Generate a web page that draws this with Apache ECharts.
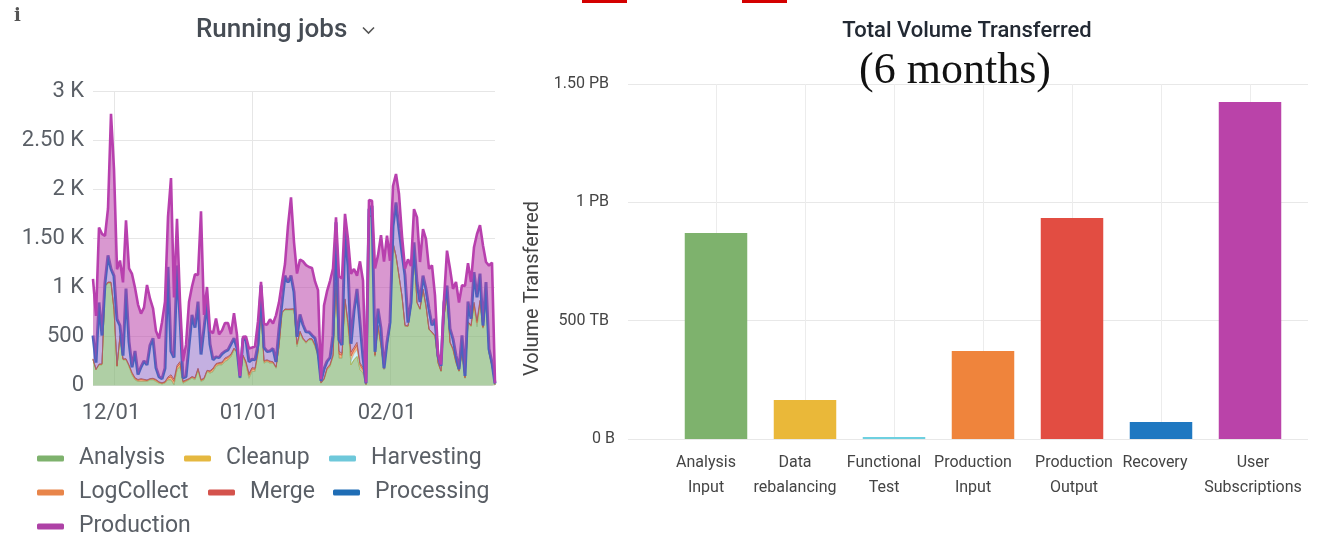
<!DOCTYPE html>
<html><head><meta charset="utf-8">
<style>html,body{margin:0;padding:0;background:#fff}#c{width:1339px;height:535px}</style>
<script src="https://cdn.jsdelivr.net/npm/echarts@6/dist/echarts.min.js"></script>
</head><body><div id="c"></div>
<script>
const jobTicks = {7:'12/01',53:'01/01',99:'02/01'};
const jobYLabels = {0:'0',500:'500',1000:'1 K',1500:'1.50 K',2000:'2 K',2500:'2.50 K',3000:'3 K'};
const analysis = [262,160,211,211,1010,1044,1044,772,194,500,262,262,194,109,58,41,41,41,41,58,58,41,24,17,24,58,58,7,160,194,24,41,58,75,58,160,41,58,143,126,143,194,211,211,245,262,296,364,330,75,296,211,75,143,143,330,772,228,245,228,228,177,398,738,772,772,772,772,398,534,466,432,466,466,398,296,24,58,160,194,296,1044,279,279,874,602,211,262,296,160,126,7,1724,1724,296,602,398,160,398,602,1452,1316,1112,908,602,602,806,1384,840,772,976,806,568,534,500,228,143,704,908,432,364,228,143,330,75,636,602,806,602,840,585,874,330,194,7];
const cleanup = [2,0,0,1,0,0,2,0,0,0,1,0,0,0,0,0,1,0,0,0,0,0,0,0,0,0,0,0,1,0,0,0,0,0,0,0,0,1,0,0,0,0,0,0,0,0,1,0,0,0,0,0,0,0,0,0,1,0,0,0,0,0,0,0,0,0,0,0,0,1,0,0,0,0,0,0,0,0,0,0,0,1,0,0,0,0,0,0,0,0,0,0,0,1,0,0,0,0,0,0,0,0,0,0,1,0,0,0,0,0,0,0,0,0,0,0,0,1,0,0,0,0,0,0,0,0,0,0,0,0,1,0,0,0,0];
const harvesting = [0,0,1,0,0,0,0,0,0,1,0,0,0,0,0,0,0,0,0,0,0,1,0,0,0,0,0,0,0,0,0,0,0,1,0,0,0,0,0,0,0,0,0,0,0,0,0,0,1,0,0,0,0,0,0,0,0,0,0,0,0,0,0,1,0,0,0,0,0,0,0,0,0,0,0,0,0,1,0,0,0,0,0,0,0,30,40,60,70,20,0,0,0,0,0,0,1,0,0,0,0,0,0,0,0,0,0,1,0,0,0,0,0,0,0,0,0,0,0,0,1,0,0,0,0,0,0,0,0,0,0,0,1,0,0];
const logCollect = [5,3,4,6,4,8,6,5,4,6,5,8,10,16,14,12,18,14,10,8,10,12,8,6,10,18,30,34,26,30,12,10,8,10,14,10,12,10,8,16,22,20,14,18,24,22,16,12,10,4,10,22,30,26,22,12,8,18,12,14,10,8,6,5,6,5,6,8,20,14,12,10,8,8,12,10,4,6,12,14,10,6,40,30,6,8,50,40,45,30,36,4,3,4,10,8,8,10,6,5,4,6,6,4,8,4,4,5,6,8,6,5,6,8,6,6,4,5,6,8,6,8,5,8,4,10,8,30,40,20,6,8,6,4,2];
const merge = [3,2,2,3,2,4,3,2,2,3,2,4,6,10,8,8,10,8,6,4,6,8,6,4,6,12,22,24,18,20,8,6,4,6,8,6,8,6,4,8,12,10,8,10,12,12,8,6,4,2,4,12,18,14,12,6,4,8,6,8,4,4,2,2,3,2,3,4,10,6,6,4,4,4,6,4,2,3,6,8,4,2,30,20,4,4,40,28,30,20,24,2,2,2,4,4,4,6,4,3,2,3,3,2,4,2,2,2,3,4,3,2,3,4,3,3,2,2,3,4,3,4,2,4,2,6,4,14,20,10,3,4,3,2,1];
const processing = [238,68,629,289,34,272,136,340,476,102,34,714,238,51,272,51,119,187,153,340,408,119,51,41,136,1122,238,221,1020,442,34,34,340,629,510,680,255,510,697,272,85,68,51,85,68,68,102,102,34,0,170,221,119,85,85,68,238,136,85,102,136,51,170,102,340,272,340,170,68,170,136,102,68,34,68,34,17,102,68,68,204,612,119,85,714,578,85,374,544,408,102,10,68,102,34,170,170,0,34,34,170,544,476,442,510,34,34,68,204,68,136,170,204,68,170,68,51,136,102,136,102,68,17,170,17,204,68,306,238,272,17,170,34,34,10];
const production = [578,476,765,1037,476,476,1581,1088,510,663,748,697,748,952,646,714,544,544,816,476,306,374,391,578,680,510,1768,612,476,170,170,323,442,289,544,272,1462,136,153,136,272,391,238,238,289,272,102,255,136,17,17,34,136,119,136,238,34,238,272,323,255,476,272,204,119,578,799,510,646,561,646,680,663,687,578,629,17,646,714,782,680,51,646,680,153,272,714,425,136,629,782,7,95,51,850,544,952,1088,1088,629,408,289,357,170,68,646,374,340,663,408,476,510,408,612,238,20,15,30,357,612,510,748,680,510,918,391,374,255,646,493,816,204,850,1020,7];

const volumeCategories = ['Analysis\nInput','Data\nrebalancing','Functional\nTest','Production\nInput','Production\nOutput','Recovery','User\nSubscriptions'];
const volumeValues = [0.87,0.165,0.008,0.372,0.934,0.072,1.424];
const volumeYLabels = {0:'0 B',0.5:'500 TB',1:'1 PB',1.5:'1.50 PB'};

const seriesNames = ['Analysis','Cleanup','Harvesting','LogCollect','Merge','Processing','Production'];
const seriesValues = [analysis,cleanup,harvesting,logCollect,merge,processing,production];
const colors = ['#7EB26D','#E5B840','#6EC8DA','#E8854A','#D4534C','#1F6DB5','#AE42A6'];
const lineColors = ['#7EB26D','#EAB839','#6ED0E0','#C9764A','#B5604E','#4A62BE','#B840AE'];
const fillColors = ['#7EB26D','#EAB839','#6ED0E0','#EF843C','#E24D42','#8A62C4','#BA43A9'];
const barColors = ['#7EB26D','#EAB839','#6ED0E0','#EF843C','#E24D42','#1F78C1','#BA43A9'];
const barLabelShift = [20,20,20,20,0,12,0];
const barLabelShiftRight = [0,0,0,0,4,0,6];
const categories = analysis.map((_,i)=>jobTicks[i]||String(i));
const legendPos = [[37,447],[184,447],[329,447],[37,481],[208,481],[333,481],[37,515]];
const fills = [0.62,0.3,0.3,0.6,0.6,0.5,0.55];
const widths = [1,0.5,0.5,1,1,3,2.6];

const isTick = i=>jobTicks[i]!==undefined;
const font='Roboto';
const chart = echarts.init(document.getElementById('c'),null,{renderer:'canvas'});
chart.setOption({
  animation:false,
  backgroundColor:'#fff',
  title:[
    {text:'Running jobs',left:191,top:12,textStyle:{fontFamily:font,fontSize:26,fontWeight:500,color:'#464c54'}},
    {text:'Total Volume Transferred',left:962,top:15,textAlign:'center',textStyle:{fontFamily:font,fontSize:22,fontWeight:500,color:'#222933'}},
    {text:'(6 months)',left:950,top:44,textAlign:'center',textStyle:{fontFamily:'Liberation Serif',fontSize:44,fontWeight:'normal',color:'#111'}},
    {text:'i',left:9,top:2,textStyle:{fontFamily:'DejaVu Serif',fontSize:18,fontWeight:'bold',color:'#555'}}
  ],
  legend:seriesNames.map((n,i)=>({
    data:[n],left:legendPos[i][0],top:legendPos[i][1],icon:'roundRect',itemWidth:27,itemHeight:6,padding:0,
    selectedMode:false,orient:'horizontal',
    textStyle:{fontFamily:font,fontSize:23,color:'#5a5f66',padding:[0,0,0,10]}
  })),
  grid:[
    {left:93,top:91.5,width:402,height:294},
    {left:671.5,top:84,width:623,height:355},
    {left:628,top:84,width:680,height:355}
  ],
  xAxis:[
    {type:'category',gridIndex:0,data:categories,boundaryGap:false,
     axisLine:{show:false},axisTick:{show:false},
     axisLabel:{interval:i=>isTick(i),formatter:v=>v,fontFamily:font,fontSize:22,color:'#5a5f66',margin:17,padding:[0,6,0,0],hideOverlap:false},
     splitLine:{show:true,interval:i=>isTick(i),lineStyle:{color:'#e6e6e6',width:1}}},
    {type:'category',gridIndex:1,data:volumeCategories,
     axisLine:{show:false},axisTick:{show:false},
     axisLabel:{interval:0,lineHeight:25,margin:11,color:'#444',fontFamily:font,fontSize:16,
       formatter:(v,i)=>v.split('\n').map(s=>`{s${i}|${s}}`).join('\n'),
       rich:Object.fromEntries(volumeCategories.map((_,i)=>['s'+i,{fontFamily:font,fontSize:16,color:'#444',lineHeight:25,padding:[0,barLabelShiftRight[i]?0:barLabelShift[i],0,barLabelShiftRight[i]]}]))},
     splitLine:{show:true,alignWithLabel:true,interval:0,lineStyle:{color:'#ececec',width:1}}},
    {type:'value',gridIndex:2,min:0,max:1,show:false}
  ],
  yAxis:[
    {type:'value',gridIndex:0,min:0,max:3000,interval:500,
     axisLine:{show:false},axisTick:{show:false},
     axisLabel:{formatter:v=>jobYLabels[v],fontFamily:font,fontSize:22,color:'#5a5f66',margin:9},
     splitLine:{lineStyle:{color:'#e6e6e6',width:1}}},
    {type:'value',gridIndex:1,min:0,max:1.5,interval:0.5,show:false},
    {type:'value',gridIndex:2,min:0,max:1.5,interval:0.5,
     name:'Volume Transferred',nameLocation:'middle',nameGap:83,nameRotate:90,
     nameTextStyle:{fontFamily:font,fontSize:20,color:'#444',padding:[0,54,0,0]},
     axisLine:{show:false},axisTick:{show:false},
     axisLabel:{margin:13,fontFamily:font,fontSize:16,color:'#444',
       formatter:v=>v===0?`{z|${volumeYLabels[v]}}`:`{n|${volumeYLabels[v]}}`,
       rich:{z:{fontFamily:font,fontSize:16,color:'#444'},n:{fontFamily:font,fontSize:16,color:'#444',padding:[0,6,0,0]}}},
     splitLine:{lineStyle:{color:'#e8e8e8',width:1}}}
  ],
  series:seriesNames.map((n,i)=>({
    name:n,type:'line',stack:'jobs',xAxisIndex:0,yAxisIndex:0,data:seriesValues[i],
    color:colors[i],showSymbol:false,symbol:'none',
    lineStyle:{width:widths[i],color:lineColors[i]},
    areaStyle:{color:fillColors[i],opacity:fills[i]},z:2+i
  })).concat([{
    name:'Total Volume Transferred',type:'bar',xAxisIndex:1,yAxisIndex:1,barWidth:62.5,
    data:volumeValues.map((v,i)=>({value:v,itemStyle:{color:barColors[i]}})),z:5
  }]),
  graphic:[
    {type:'rect',shape:{x:582,y:0,width:45,height:3},style:{fill:'#d40000'}},
    {type:'rect',shape:{x:742,y:0,width:45,height:3},style:{fill:'#d40000'}},
    {type:'polyline',shape:{points:[[363,27.5],[368.5,33],[374,27.5]]},style:{stroke:'#555',lineWidth:1.6,fill:null}}
  ]
});
</script></body></html>
